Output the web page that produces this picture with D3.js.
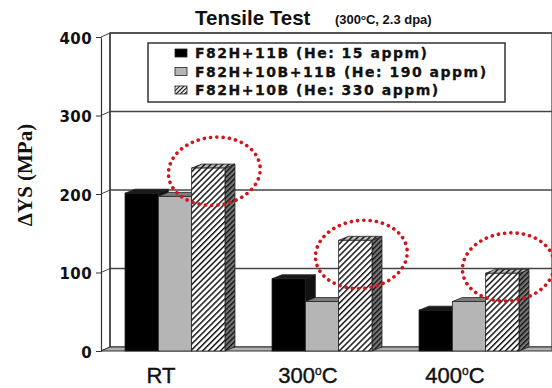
<!DOCTYPE html>
<html>
<head>
<meta charset="utf-8">
<script src="https://cdn.jsdelivr.net/npm/d3@7"></script>
<style>
  body { margin: 0; background: #fff; }
  svg { display: block; }
</style>
</head>
<body>
<script>
'use strict';

// chart data
const categories = ["RT", "300°C", "400°C"];
const seriesNames = ["F82H+11B (He: 15 appm)", "F82H+10B+11B (He: 190 appm)", "F82H+10B (He: 330 appm)"];
const f82h11B = [201, 92, 52];
const f82h10B11B = [197, 63, 63];
const f82h10B = [233, 141, 99];
const yTicks = [0, 100, 200, 300, 400];
// centres of the red dotted rings drawn round the 10B bars (in MPa)
const ringValues = [229, 123, 107];

const seriesValues = [f82h11B, f82h10B11B, f82h10B];

(function() {
  const W = 552, H = 388;
  const left = 101, right = 552;
  const wallDx = 9, wallDy = -4;   // depth of the back wall
  const barDx = 10, barDy = -4;    // depth of each bar

  let svg = d3.select('body').append('svg')
    .attr('width', W)
    .attr('height', H)
    .style('font-family', '"Liberation Sans", Arial, sans-serif');

  // patterns for the hatched series
  let defs = svg.append('defs');
  function hatch(id, bg, lineColor, size, width) {
    let p = defs.append('pattern')
      .attr('id', id)
      .attr('patternUnits', 'userSpaceOnUse')
      .attr('width', size)
      .attr('height', size)
      .attr('patternTransform', 'rotate(45)');
    p.append('rect').attr('width', size).attr('height', size).attr('fill', bg);
    p.append('line')
      .attr('x1', 0.5).attr('y1', 0).attr('x2', 0.5).attr('y2', size)
      .attr('stroke', lineColor).attr('stroke-width', width);
  }
  hatch('hatchFront', '#fff', '#111', 4.2, 1.9);
  hatch('hatchTop', '#bbb', '#111', 4.2, 1.9);
  hatch('hatchSide', '#777', '#111', 3.6, 1.8);
  hatch('hatchSwatch', '#fff', '#111', 3, 1.4);

  let y = d3.scaleLinear().domain([0, 400]).range([351, 37]);

  let x = d3.scaleBand()
    .domain(categories)
    .range([125, 519])
    .paddingInner(0.32)
    .paddingOuter(0);

  let xInner = d3.scaleBand()
    .domain(d3.range(seriesNames.length))
    .range([0, x.bandwidth()]);

  // back wall
  svg.append('rect')
    .attr('x', left + wallDx)
    .attr('y', y(400) + wallDy)
    .attr('width', right - left - wallDx)
    .attr('height', y(0) - y(400))
    .attr('fill', '#fff')
    .attr('stroke', '#333')
    .attr('stroke-width', 1.2);

  // gridlines on the back wall and left wall
  svg.selectAll('.grid')
    .data(yTicks.filter((d) => d > 0))
    .enter()
    .append('line')
      .attr('x1', left + wallDx)
      .attr('x2', right)
      .attr('y1', (d) => y(d) + wallDy)
      .attr('y2', (d) => y(d) + wallDy)
      .attr('stroke', '#444')
      .attr('stroke-width', 1.4);

  svg.selectAll('.sideGrid')
    .data(yTicks)
    .enter()
    .append('line')
      .attr('x1', left)
      .attr('x2', left + wallDx)
      .attr('y1', (d) => y(d))
      .attr('y2', (d) => y(d) + wallDy)
      .attr('stroke', '#444')
      .attr('stroke-width', 1);

  // left wall back edge
  svg.append('line')
    .attr('x1', left + wallDx).attr('x2', left + wallDx)
    .attr('y1', y(400) + wallDy).attr('y2', y(0) + wallDy)
    .attr('stroke', '#333').attr('stroke-width', 1.2);

  // floor
  svg.append('polygon')
    .attr('points', [
      [left, y(0)], [left + wallDx, y(0) + wallDy],
      [right, y(0) + wallDy], [right, y(0)]
    ].join(' '))
    .attr('fill', '#b0b0b0')
    .attr('stroke', '#333')
    .attr('stroke-width', 1);

  // y axis
  let yAxis = d3.axisLeft(y).tickValues(yTicks).tickSize(5).tickSizeOuter(0).tickPadding(4);
  let gy = svg.append('g')
    .attr('transform', `translate(${left}, 0)`)
    .call(yAxis);
  gy.select('.domain').attr('stroke', '#333').attr('stroke-width', 1.2);
  gy.selectAll('.tick line').attr('stroke', '#333');
  gy.selectAll('.tick text')
    .attr('fill', '#111')
    .attr('dy', '0.4em')
    .style('font-family', '"DejaVu Sans", sans-serif')
    .style('font-weight', 'bold')
    .style('font-size', '15px')
    .style('letter-spacing', '0.4px');

  // bars
  const styles = [
    { front: '#000', top: '#1a1a1a', side: '#111' },
    { front: '#b5b5b5', top: '#7d7d7d', side: '#8a8a8a' },
    { front: 'url(#hatchFront)', top: 'url(#hatchTop)', side: 'url(#hatchSide)' }
  ];

  categories.forEach((cat, ci) => {
    seriesValues.forEach((vals, si) => {
      let x0 = x(cat) + xInner(si);
      let w = xInner.bandwidth();
      let yt = y(vals[ci]);
      let yb = y(0);
      let g = svg.append('g').attr('class', 'bar');
      g.append('polygon')
        .attr('points', [[x0 + w, yt], [x0 + w + barDx, yt + barDy], [x0 + w + barDx, yb + barDy], [x0 + w, yb]].join(' '))
        .attr('fill', styles[si].side)
        .attr('stroke', '#222').attr('stroke-width', 0.8);
      g.append('polygon')
        .attr('points', [[x0, yt], [x0 + barDx, yt + barDy], [x0 + w + barDx, yt + barDy], [x0 + w, yt]].join(' '))
        .attr('fill', styles[si].top)
        .attr('stroke', '#222').attr('stroke-width', 0.8);
      g.append('rect')
        .attr('x', x0)
        .attr('y', yt)
        .attr('width', w)
        .attr('height', yb - yt)
        .attr('fill', styles[si].front)
        .attr('stroke', '#222').attr('stroke-width', 0.8);
    });
  });

  // red dotted rings
  let ringX = (d) => x(d) + xInner(2) + xInner.bandwidth() / 2 + 6;
  svg.selectAll('.ring')
    .data(categories)
    .enter()
    .append('ellipse')
      .attr('cx', ringX)
      .attr('cy', (d, i) => y(ringValues[i]))
      .attr('rx', 46)
      .attr('ry', 34)
      .attr('transform', (d, i) => `rotate(-6, ${ringX(d)}, ${y(ringValues[i])})`)
      .attr('fill', 'none')
      .attr('stroke', '#d4141c')
      .attr('stroke-width', 3.6)
      .attr('stroke-linecap', 'round')
      .attr('stroke-dasharray', '0.1 6.2');

  // category labels
  let cl = svg.selectAll('.cat')
    .data(categories)
    .enter()
    .append('text')
      .attr('x', (d) => x(d) + x.bandwidth() / 2 - 14)
      .attr('y', 383)
      .attr('text-anchor', 'middle')
      .style('font-size', '22px')
      .style('stroke', '#111')
      .style('stroke-width', 0.4)
      .attr('fill', '#111');
  cl.each(function(d) {
    let parts = d.split('°');
    let t = d3.select(this);
    t.append('tspan').text(parts[0]);
    if (parts.length > 1) {
      t.append('tspan').attr('dy', -8).style('font-size', '12px').text('o');
      t.append('tspan').attr('dy', 8).text(parts[1]);
    }
  });

  // y label
  svg.append('text')
    .attr('transform', 'translate(32, 175) rotate(-90)')
    .attr('text-anchor', 'middle')
    .style('font-family', '"Liberation Serif", "Times New Roman", serif')
    .style('font-weight', 'bold')
    .style('font-size', '21px')
    .attr('fill', '#111')
    .text('ΔYS (MPa)');

  // title
  svg.append('text')
    .attr('x', 195)
    .attr('y', 25)
    .style('font-weight', 'bold')
    .style('font-size', '20.5px')
    .attr('fill', '#111')
    .text('Tensile Test');

  let sub = svg.append('text')
    .attr('x', 335)
    .attr('y', 24)
    .style('font-weight', 'bold')
    .style('font-size', '13px')
    .attr('fill', '#111');
  sub.append('tspan').text('(300');
  sub.append('tspan').attr('dy', -4).style('font-size', '8px').text('o');
  sub.append('tspan').attr('dy', 4).text('C, 2.3 dpa)');

  // legend
  svg.append('rect')
    .attr('x', 148).attr('y', 43)
    .attr('width', 357).attr('height', 59)
    .attr('fill', '#fff')
    .attr('stroke', '#333')
    .attr('stroke-width', 1.5);

  const swatchFill = ['#000', '#b5b5b5', 'url(#hatchSwatch)'];
  let lg = svg.selectAll('.legend')
    .data(seriesNames)
    .enter()
    .append('g')
      .attr('transform', (d, i) => `translate(175, ${53 + i * 18.5})`);
  lg.append('rect')
    .attr('x', 0).attr('y', -4)
    .attr('width', 12).attr('height', 8)
    .attr('fill', (d, i) => swatchFill[i])
    .attr('stroke', '#222').attr('stroke-width', 0.8);
  lg.append('text')
    .attr('x', 20)
    .attr('dy', '0.36em')
    .style('font-family', '"DejaVu Sans", sans-serif')
    .style('font-weight', 'bold')
    .style('font-size', '14px')
    .style('letter-spacing', '1.5px')
    .style('stroke', '#111')
    .style('stroke-width', 0.3)
    .attr('fill', '#111')
    .text((d) => d);
})();
</script>
</body>
</html>
